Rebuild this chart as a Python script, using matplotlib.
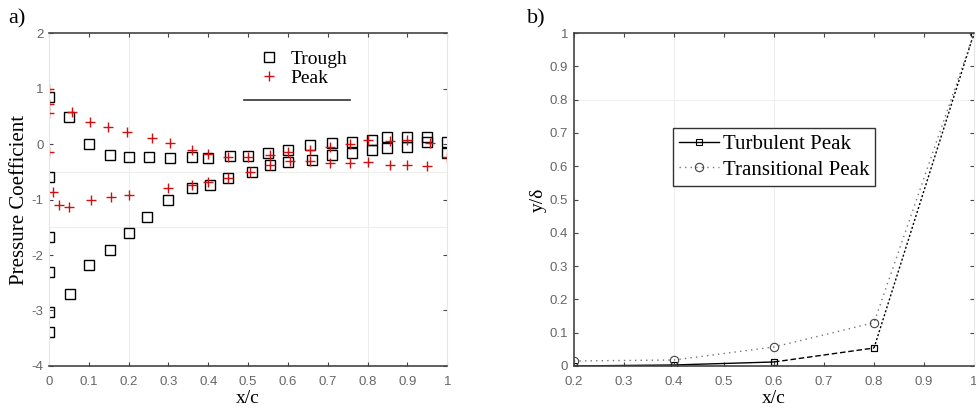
import matplotlib
matplotlib.use("Agg")
import matplotlib.pyplot as plt

# ---------------- data (panel a) ----------------
trough_x = [0.0, 0.0, 0.0, 0.0, 0.053, 0.10, 0.153, 0.20, 0.246, 0.30, 0.36, 0.405, 0.45, 0.51, 0.555,
            0.60, 0.66, 0.71, 0.76, 0.81, 0.85, 0.90, 0.95, 1.0,
            0.0, 0.0, 0.05, 0.10, 0.153, 0.20, 0.25, 0.304, 0.36, 0.40, 0.455, 0.50, 0.55, 0.60,
            0.656, 0.71, 0.76, 0.81, 0.85, 0.90, 0.95, 1.0]
trough_y = [-3.38, -3.02, -2.30, -1.68, -2.71, -2.18, -1.91, -1.61, -1.31, -1.00, -0.80, -0.74, -0.61, -0.50, -0.38,
            -0.32, -0.29, -0.20, -0.17, -0.10, -0.08, -0.05, 0.04, -0.17,
            0.85, -0.60, 0.49, 0.00, -0.20, -0.23, -0.23, -0.26, -0.24, -0.26, -0.21, -0.21, -0.17, -0.10,
            -0.02, 0.02, 0.04, 0.07, 0.13, 0.13, 0.13, 0.04]

peak_x = [0.0, 0.0, 0.0, 0.058, 0.103, 0.148, 0.196, 0.258, 0.304, 0.36, 0.40, 0.45, 0.50, 0.555,
          0.60, 0.656, 0.706, 0.756, 0.80, 0.857, 0.90, 0.957, 1.0,
          0.0, 0.01, 0.025, 0.05, 0.105, 0.155, 0.20, 0.30, 0.36, 0.40, 0.45, 0.505, 0.555,
          0.605, 0.656, 0.706, 0.756, 0.80, 0.857, 0.90, 0.95]
peak_y = [1.00, 0.73, 0.56, 0.58, 0.39, 0.31, 0.21, 0.11, 0.02, -0.10, -0.18, -0.23, -0.23, -0.20,
          -0.14, -0.10, -0.05, 0.00, 0.07, 0.05, 0.07, 0.02, -0.23,
          -0.15, -0.86, -1.10, -1.13, -1.01, -0.95, -0.92, -0.80, -0.74, -0.68, -0.61, -0.50, -0.38,
          -0.30, -0.30, -0.35, -0.35, -0.32, -0.38, -0.38, -0.40]

# ---------------- data (panel b) ----------------
xc_b = [0.2, 0.4, 0.6, 0.8, 1.0]
turbulent = [0.0, 0.003, 0.012, 0.054, 1.0]
transitional = [0.015, 0.018, 0.057, 0.13, 1.0]

serif = ["Liberation Serif", "DejaVu Serif"]
tick_color = "#666666"

fig = plt.figure(figsize=(9.76, 4.12), dpi=100)
axA = fig.add_axes([0.0502, 0.1117, 0.408, 0.808])
axB = fig.add_axes([0.588, 0.1117, 0.410, 0.808])

def style(ax):
    ax.tick_params(direction="in", top=True, right=True, length=3, width=0.8,
                   labelsize=9.5, labelcolor=tick_color, color="#444444")
    ax.tick_params(axis="x", pad=7)
    ax.tick_params(axis="y", pad=4)
    for lab in ax.get_xticklabels() + ax.get_yticklabels():
        lab.set_family(["Liberation Sans", "DejaVu Sans"])
        lab.set_fontsize(9.5)

# ---------- panel a ----------
axA.set_xlim(0, 1)
axA.set_ylim(-4, 2)
for xv in [0.2, 0.8]:
    axA.axvline(xv, color="#eeeeee", lw=0.8, zorder=0)
for yv in [-0.5, -1.5]:
    axA.axhline(yv, color="#eeeeee", lw=0.8, zorder=0)
axA.plot(trough_x, trough_y, linestyle="none", marker="s", ms=6.5, mfc="none",
         mec="black", mew=1.0, label="Trough")
axA.plot(peak_x, peak_y, linestyle="none", marker="+", ms=7.5, mec="#d01010",
         mew=1.0, label="Peak")
axA.set_xticks([0, 0.1, 0.2, 0.3, 0.4, 0.5, 0.6, 0.7, 0.8, 0.9, 1])
axA.set_xticklabels(["0", "0.1", "0.2", "0.3", "0.4", "0.5", "0.6", "0.7", "0.8", "0.9", "1"])
axA.set_yticks([-4, -3, -2, -1, 0, 1, 2])
axA.set_yticklabels(["-4", "-3", "-2", "-1", "0", "1", "2"])
style(axA)
for s in ["top", "bottom"]:
    axA.spines[s].set_color("#444444")
    axA.spines[s].set_linewidth(1.2)
for s in ["left", "right"]:
    axA.spines[s].set_color("#e6e6e6")
axA.set_xlabel("x/c", family=serif, fontsize=14, labelpad=2)
axA.set_ylabel("Pressure Coefficient", family=serif, fontsize=15, labelpad=2)
legA = axA.legend(loc="upper left", bbox_to_anchor=(0.49, 0.99), frameon=False,
                  prop={"family": serif, "size": 14}, handlelength=1.2,
                  handletextpad=0.5, labelspacing=0.1, borderpad=0.2)
axA.plot([0.49, 0.757], [0.80, 0.80], transform=axA.transAxes, color="#333333",
         lw=1.2, clip_on=False)

# ---------- panel b ----------
axB.set_xlim(0.2, 1)
axB.set_ylim(0, 1)
for xv in [0.4, 0.6]:
    axB.axvline(xv, color="#eeeeee", lw=0.8, zorder=0)
axB.axhline(0.8, color="#f0f0f0", lw=0.8, zorder=0)
# turbulent line: solid / dashed / dotted pieces as in the figure
axB.plot(xc_b[:3], turbulent[:3], color="black", lw=1.0, linestyle="-",
         marker="s", ms=4, mfc="none", mew=0.8, label="Turbulent Peak")
axB.plot(xc_b[2:4], turbulent[2:4], color="black", lw=1.0, linestyle=(0, (4, 2)),
         marker="s", ms=4, mfc="none", mew=0.8)
axB.plot(xc_b[3:], turbulent[3:], color="black", lw=1.0, linestyle=(0, (1.5, 1.5)),
         marker="s", ms=4, mfc="none", mew=0.8)
axB.plot(xc_b, transitional, color="#777777", lw=1.0, linestyle=(0, (1, 3)),
         marker="o", ms=6, mfc="none", mec="#444444", mew=0.8, label="Transitional Peak")
axB.set_xticks([0.2, 0.3, 0.4, 0.5, 0.6, 0.7, 0.8, 0.9, 1.0])
axB.set_xticklabels(["0.2", "0.3", "0.4", "0.5", "0.6", "0.7", "0.8", "0.9", "1"])
axB.set_yticks([0, 0.1, 0.2, 0.3, 0.4, 0.5, 0.6, 0.7, 0.8, 0.9, 1.0])
axB.set_yticklabels(["0", "0.1", "0.2", "0.3", "0.4", "0.5", "0.6", "0.7", "0.8", "0.9", "1"])
style(axB)
for s in ["top", "bottom", "left"]:
    axB.spines[s].set_color("#444444")
    axB.spines[s].set_linewidth(1.2)
axB.spines["right"].set_color("#e6e6e6")
axB.set_xlabel("x/c", family=serif, fontsize=14, labelpad=2)
axB.set_ylabel("y/δ", family=serif, fontsize=14, labelpad=2)
legB = axB.legend(loc="upper left", bbox_to_anchor=(0.247, 0.715), frameon=True,
                  fancybox=False, edgecolor="#333333", framealpha=1,
                  prop={"family": serif, "size": 15}, handlelength=1.9,
                  handletextpad=0.2, labelspacing=0.3, borderpad=0.3, borderaxespad=0)
legB.get_frame().set_linewidth(1.0)

fig.text(0.008, 0.942, "a)", family=serif, fontsize=16)
fig.text(0.540, 0.942, "b)", family=serif, fontsize=16)

fig.savefig("out.png", dpi=100)
